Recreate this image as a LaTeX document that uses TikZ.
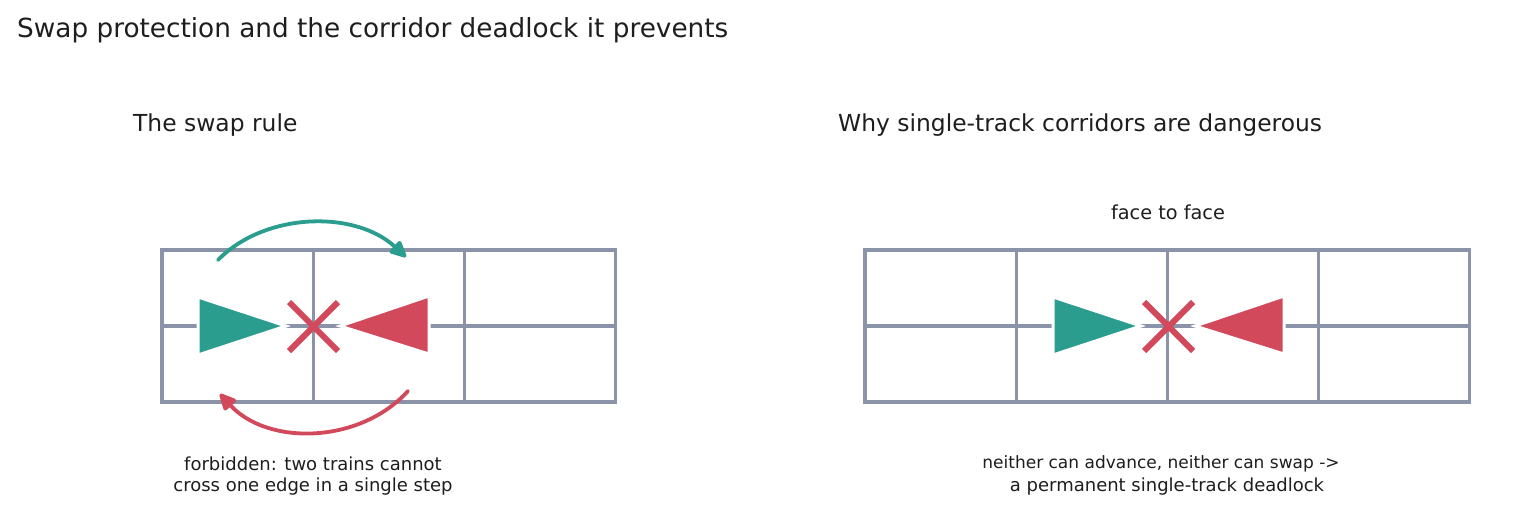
\documentclass[tikz,border=0pt]{standalone}
\usepackage{fontspec}
\setmainfont{DejaVu Sans}
\usetikzlibrary{arrows.meta}
\definecolor{gridc}{HTML}{8B93A8}
\definecolor{trainG}{HTML}{2A9D8F}
\definecolor{trainR}{HTML}{D1495B}
\definecolor{inkc}{HTML}{1E1E1E}
\tikzset{
  cell/.style={draw=gridc, line width=3.3pt, minimum width=151.2pt, minimum height=76pt, inner sep=0pt, outer sep=0pt},
  trainfill/.style={draw=white, line width=3pt, line join=miter},
  cross/.style={draw=trainR, line width=6pt},
  movearrow/.style={line width=3.8pt, line cap=round, -{Triangle[length=19pt,width=17pt,line join=round]}},
  titletxt/.style={text=inkc, inner sep=0pt, anchor=west, font=\fontsize{26.3}{30}\selectfont},
  subtxt/.style={text=inkc, inner sep=0pt, anchor=west, font=\fontsize{23.4}{28}\selectfont},
  smalltxt/.style={text=inkc, inner sep=0pt, font=\fontsize{18}{21}\selectfont},
}
\begin{document}
\begin{tikzpicture}[x=1pt, y=-1pt]
\useasboundingbox (0,0) rectangle (1515,512);
\fill[white] (0,0) rectangle (1515,512);

% texts
\node[titletxt] (title) at (17,30) {Swap protection and the corridor deadlock it prevents};
\node[subtxt] (subL) at (133,125) {The swap rule};
\node[subtxt] (subR) at (838,125) {Why single-track corridors are dangerous};
\node[smalltxt, font=\fontsize{19.3}{21}\selectfont] (face) at (1168,212) {face to face};
\node[smalltxt] (capL1) at (313,464) {forbidden: two trains cannot};
\node[smalltxt] (capL2) at (313,487) {cross one edge in a single step};
\node[smalltxt, font=\fontsize{17}{21}\selectfont] (capR1) at (1161,464) {neither can advance, neither can swap ->};
\node[smalltxt] (capR2) at (1167,487) {a permanent single-track deadlock};

% left grid
\foreach \i [evaluate=\i as \cx using 162+75.6+151.2*\i] in {0,1,2}{
  \node[cell] (L\i a) at (\cx,288) {};
  \node[cell] (L\i b) at (\cx,364) {};
}
% right grid
\foreach \i [evaluate=\i as \cx using 865+75.6+151.2*\i] in {0,1,2,3}{
  \node[cell] (R\i a) at (\cx,288) {};
  \node[cell] (R\i b) at (\cx,364) {};
}

% left trains
\filldraw[trainfill, fill=trainG] (198,297) -- (198,355) -- (286,326) -- cycle;
\filldraw[trainfill, fill=trainR] (429,296) -- (429,354) -- (340,326) -- cycle;
\draw[cross] (289,302) -- (338,351);
\draw[cross] (289,351) -- (338,302);

% right trains
\filldraw[trainfill, fill=trainG] (1053,297) -- (1053,355) -- (1141,326) -- cycle;
\filldraw[trainfill, fill=trainR] (1284,296) -- (1284,354) -- (1195,326) -- cycle;
\draw[cross] (1144,302) -- (1193,351);
\draw[cross] (1144,351) -- (1193,302);

% move arrows
\coordinate (gS) at (218,260);
\coordinate (gE) at (406,257);
\coordinate (rS) at (408,391);
\coordinate (rE) at (220,394);
\draw[movearrow, trainG] (gS) .. controls (265,212) and (355,210) .. (gE);
\draw[movearrow, trainR] (rS) .. controls (360,444) and (268,446) .. (rE);
\end{tikzpicture}
\end{document}
